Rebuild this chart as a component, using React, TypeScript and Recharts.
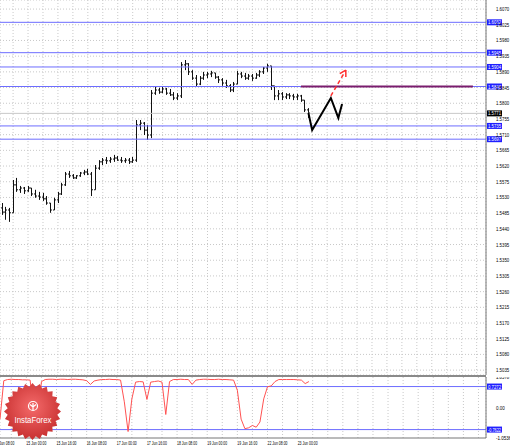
import { ComposedChart, Bar, Line, XAxis, YAxis, CartesianGrid, ReferenceLine } from 'recharts';

// 2-hour OHLC bars
const highs = [
  1.5514, 1.5503, 1.55, 1.558, 1.5586, 1.5563, 1.556, 1.5563, 1.5557, 1.5552,
  1.5546, 1.5543, 1.5534, 1.5514, 1.5529, 1.5546, 1.5572, 1.5603, 1.5606, 1.5597,
  1.5594, 1.5603, 1.5609, 1.5612, 1.5603, 1.5623, 1.5637, 1.5643, 1.5646, 1.5646,
  1.5652, 1.5649, 1.5646, 1.5643, 1.5643, 1.5646, 1.5752, 1.5752, 1.5746, 1.5738,
  1.5838, 1.5847, 1.5844, 1.5847, 1.5844, 1.5841, 1.5832, 1.5829, 1.5918, 1.5924,
  1.5915, 1.5895, 1.5881, 1.5878, 1.589, 1.589, 1.5893, 1.5887, 1.5878, 1.5872,
  1.5867, 1.5855, 1.5861, 1.5893, 1.589, 1.5887, 1.5884, 1.5884, 1.5887, 1.5895,
  1.5904, 1.5913, 1.5907, 1.585, 1.5838, 1.5832, 1.5829, 1.5829, 1.5827, 1.5827,
  1.5824, 1.5809, 1.5786,
];
const lows = [
  1.548, 1.5466, 1.546, 1.5486, 1.5546, 1.5543, 1.554, 1.5546, 1.5534, 1.5529,
  1.5523, 1.552, 1.5509, 1.5486, 1.5494, 1.5514, 1.5537, 1.5563, 1.5586, 1.5583,
  1.5583, 1.5589, 1.5594, 1.5594, 1.5534, 1.5552, 1.5609, 1.5623, 1.5626, 1.5629,
  1.5632, 1.5635, 1.5629, 1.5629, 1.5626, 1.5629, 1.5632, 1.5723, 1.5709, 1.5695,
  1.57, 1.5824, 1.5827, 1.5829, 1.5824, 1.5821, 1.5809, 1.5809, 1.5815, 1.5895,
  1.5881, 1.5867, 1.5847, 1.5852, 1.5867, 1.5872, 1.5875, 1.587, 1.5858, 1.585,
  1.5844, 1.5832, 1.5832, 1.5855, 1.5872, 1.5867, 1.5867, 1.5864, 1.587, 1.5875,
  1.5884, 1.589, 1.5838, 1.5809, 1.5809, 1.5809, 1.5812, 1.5812, 1.5809, 1.5809,
  1.5804, 1.5775, 1.5758,
];
const opens = [
  1.55, 1.5488, 1.5494, 1.5486, 1.5566, 1.5552, 1.5557, 1.5549, 1.5557, 1.554,
  1.5534, 1.5531, 1.5526, 1.5514, 1.5494, 1.5523, 1.554, 1.5566, 1.5597, 1.5592,
  1.5586, 1.5592, 1.56, 1.5603, 1.5597, 1.5552, 1.5614, 1.5632, 1.5637, 1.5635,
  1.564, 1.5643, 1.5637, 1.5635, 1.5637, 1.5632, 1.5637, 1.5738, 1.5743, 1.5723,
  1.5709, 1.5829, 1.5838, 1.5832, 1.5841, 1.5829, 1.5824, 1.5815, 1.5821, 1.591,
  1.5913, 1.589, 1.5872, 1.5855, 1.5872, 1.5881, 1.5884, 1.5887, 1.5875, 1.5867,
  1.5858, 1.585, 1.5838, 1.5855, 1.5884, 1.5878, 1.5872, 1.5878, 1.5872, 1.5881,
  1.589, 1.5901, 1.5907, 1.585, 1.5821, 1.5827, 1.5818, 1.5824, 1.5821, 1.5818,
  1.5821, 1.5809, 1.5781,
];
const closes = [
  1.5488, 1.5494, 1.5486, 1.5566, 1.5552, 1.5557, 1.5549, 1.5557, 1.554, 1.5534,
  1.5531, 1.5526, 1.5514, 1.5494, 1.5523, 1.554, 1.5566, 1.5597, 1.5592, 1.5586,
  1.5592, 1.56, 1.5603, 1.5597, 1.5552, 1.5614, 1.5632, 1.5637, 1.5635, 1.564,
  1.5643, 1.5637, 1.5635, 1.5637, 1.5632, 1.5637, 1.5738, 1.5743, 1.5723, 1.5709,
  1.5829, 1.5838, 1.5832, 1.5841, 1.5829, 1.5824, 1.5815, 1.5821, 1.591, 1.5913,
  1.589, 1.5872, 1.5855, 1.5872, 1.5881, 1.5884, 1.5887, 1.5875, 1.5867, 1.5858,
  1.585, 1.5838, 1.5855, 1.5884, 1.5878, 1.5872, 1.5878, 1.5872, 1.5881, 1.589,
  1.5901, 1.5907, 1.585, 1.5821, 1.5827, 1.5818, 1.5824, 1.5821, 1.5818, 1.5821,
  1.5809, 1.5781, 1.5772,
];

// lower window oscillator
const oscillator = [
  -0.4, 0.93, 0.97, 0.98, 0.97, 0.97, 0.96, 0.96, 0.95, -0.3,
  -0.45, 0.9, 0.97, 0.98, 0.98, 0.97, 0.98, 0.98, 0.97, 0.98,
  0.98, 0.97, 0.96, 0.93, 0.8, 0.92, 0.95, 0.97, 0.97, 0.98,
  0.97, 0.97, 0.95, 0.2, -0.83, 0.3, 0.88, 0.9, 0.89, 0.28,
  0.88, 0.9, 0.92, 0.88, -0.24, 0.9, 0.97, 0.97, 0.98, 0.97,
  0.97, 0.8, 0.95, 0.97, 0.98, 0.98, 0.97, 0.97, 0.98, 0.97,
  0.97, 0.96, 0.95, 0.6, -0.4, -0.73, -0.7, -0.62, -0.68, -0.5,
  0.3, 0.72, 0.75, 0.9, 0.97, 0.97, 0.97, 0.97, 0.97, 0.96,
  0.95, 0.83, 0.9,
];

// forecast zigzag and the dashed target arrow
const forecastSlots = [82, 83, 88, 90, 91];
const forecastPrices = [1.5772, 1.5723, 1.5815, 1.5758, 1.5798];
const arrowSlots = [88, 92];
const arrowPrices = [1.5821, 1.5895];

const priceTicks = [
  1.5035, 1.508, 1.5125, 1.517, 1.5215, 1.526, 1.5305, 1.535, 1.5395, 1.544, 1.5485, 1.553,
  1.5575, 1.562, 1.5665, 1.571, 1.5755, 1.58, 1.5845, 1.589, 1.5935, 1.598, 1.6025, 1.607,
];
const levels = [1.6032, 1.5945, 1.5904, 1.5848, 1.5735, 1.5697];
const lastPrice = 1.5771;
const targetLevel = 1.5848;
const targetFrom = 80;
const targetTo = 126;

const oscTicks = [-1.0536, 0, 1.0578];
const oscLevels = [0.7272, -0.7622];

const timeLabels = [
  '12 Jun 08:00', '15 Jun 00:00', '15 Jun 16:00', '16 Jun 08:00', '17 Jun 00:00', '17 Jun 16:00',
  '18 Jun 08:00', '19 Jun 00:00', '19 Jun 16:00', '22 Jun 08:00', '23 Jun 00:00',
];

const slotCount = 130;
const gridSlots = Array.from({ length: slotCount }, (_, i) => i).filter((i) => i % 4 === 3);

const data = Array.from({ length: slotCount }, (_, i) => {
  const has = i < highs.length;
  const f = forecastSlots.indexOf(i);
  const a = arrowSlots.indexOf(i);
  return {
    t: i,
    range: has ? [lows[i], highs[i]] : null,
    high: has ? highs[i] : null,
    low: has ? lows[i] : null,
    open: has ? opens[i] : null,
    close: has ? closes[i] : null,
    osc: has ? oscillator[i] : null,
    forecast: f >= 0 ? forecastPrices[f] : null,
    arrow: a >= 0 ? arrowPrices[a] : null,
  };
});

const FONT = '"Liberation Sans", Arial, sans-serif';
const LEVEL_BLUE = '#6d6dff';
const TAG_BLUE = '#1f1fff';

function OhlcBar(props: any) {
  const { x, y, width, height, payload } = props;
  if (!payload || payload.high == null) return <g />;
  const top = Math.min(y, y + height);
  const bot = Math.max(y, y + height);
  const span = payload.high - payload.low || 1;
  const py = (v: number) => top + ((payload.high - v) / span) * (bot - top);
  const cx = Math.round(x + width / 2) + 0.5;
  return (
    <g stroke="#111" strokeWidth={1}>
      <line x1={cx} x2={cx} y1={top} y2={bot} />
      <line x1={cx - 1.5} x2={cx} y1={py(payload.open)} y2={py(payload.open)} />
      <line x1={cx} x2={cx + 1.5} y1={py(payload.close)} y2={py(payload.close)} />
    </g>
  );
}

function ArrowHead(props: any) {
  const { cx, cy, index } = props;
  if (index !== arrowSlots[arrowSlots.length - 1] || cy == null) return <g />;
  return (
    <path
      d="M0,0 L-6,-3.5 M0,0 L-6,3.5"
      transform={`translate(${cx},${cy}) rotate(-60)`}
      stroke="#ff3030"
      strokeWidth={1.5}
      fill="none"
    />
  );
}

function AxisTag(props: any) {
  const { viewBox, text, fill } = props;
  if (!viewBox) return null;
  const { x, y, width } = viewBox;
  return (
    <g>
      <rect x={x + width + 1} y={y - 3} width={15} height={6} fill={fill} />
      <text x={x + width + 2} y={y + 2} fontSize={5} fill="#fff" fontFamily={FONT} textLength={13} lengthAdjust="spacingAndGlyphs">
        {text}
      </text>
    </g>
  );
}

function ValueTick(props: any) {
  const { x, y, payload, fmt } = props;
  const label = fmt(payload.value);
  return (
    <text x={x + 2} y={y + 2} fontSize={5} fill="#000" fontFamily={FONT} textLength={label.length * 2.2} lengthAdjust="spacingAndGlyphs">
      {label}
    </text>
  );
}

function TimeTick(props: any) {
  const { x, y, payload } = props;
  const slot = payload.value;
  if ((slot - 7) % 8 !== 0) return <g />;
  const k = (slot - 7) / 8 + 1;
  const style = { fontSize: 5.5, fill: '#000', fontFamily: FONT };
  return (
    <g>
      {k === 1 && (
        <text x={x - 32} y={y + 5} {...style} textLength={20} lengthAdjust="spacingAndGlyphs">
          {timeLabels[0]}
        </text>
      )}
      {timeLabels[k] && (
        <text x={x} y={y + 5} {...style} textLength={20} lengthAdjust="spacingAndGlyphs">
          {timeLabels[k]}
        </text>
      )}
    </g>
  );
}

const starPath = (() => {
  const pts: string[] = [];
  const n = 24;
  for (let k = 0; k < n * 2; k++) {
    const r = k % 2 ? 25 : 28.5;
    const a = (Math.PI * k) / n;
    pts.push(`${(32.5 + r * Math.sin(a)).toFixed(2)},${(411.5 - r * Math.cos(a)).toFixed(2)}`);
  }
  return 'M' + pts.join('L') + 'Z';
})();

function Logo() {
  return (
    <svg width={510} height={446} style={{ position: 'absolute', left: 0, top: 0, pointerEvents: 'none' }}>
      <defs>
        <radialGradient id="seal" cx="50%" cy="42%" r="60%">
          <stop offset="0%" stopColor="#f46a6a" />
          <stop offset="100%" stopColor="#c62e2e" />
        </radialGradient>
      </defs>
      <path d={starPath} fill="url(#seal)" />
      <circle cx={33} cy={406} r={4.5} fill="none" stroke="#fff" strokeWidth={1.2} />
      <path d="M33,403 L33,410 M30,404.5 L33,407 L36,404.5" stroke="#fff" strokeWidth={1.2} fill="none" />
      <text x={33} y={423} textAnchor="middle" fontSize={9} fill="#fff" fontFamily={FONT} textLength={37} lengthAdjust="spacingAndGlyphs">
        InstaForex
      </text>
    </svg>
  );
}

export default function App() {
  return (
    <div style={{ position: 'absolute', left: 0, top: 0, width: 510, height: 446, background: '#fff', overflow: 'hidden' }}>
      <ComposedChart width={510} height={375} data={data} margin={{ top: 0, right: 0, left: 0, bottom: 0 }} barCategoryGap={0} barGap={0}>
        <CartesianGrid stroke="#c8c8c8" strokeDasharray="1 2" />
        <XAxis dataKey="t" type="category" hide ticks={gridSlots} interval={0} />
        <YAxis
          orientation="right"
          type="number"
          width={24}
          domain={[1.5021, 1.6096]}
          allowDataOverflow
          ticks={priceTicks}
          interval={0}
          tickLine={false}
          axisLine={{ stroke: '#777' }}
          tick={<ValueTick fmt={(v: number) => v.toFixed(4)} />}
        />
        <ReferenceLine y={lastPrice} stroke="#c8c8c8" label={<AxisTag text={lastPrice.toFixed(4)} fill="#000" />} />
        {levels.map((lv) => (
          <ReferenceLine key={lv} y={lv} stroke={LEVEL_BLUE} label={<AxisTag text={lv.toFixed(4)} fill={TAG_BLUE} />} />
        ))}
        <ReferenceLine
          segment={[
            { x: targetFrom, y: targetLevel },
            { x: targetTo, y: targetLevel },
          ]}
          stroke="#7a1c6e"
          strokeWidth={2}
        />
        <Bar dataKey="range" shape={<OhlcBar />} barSize={3} isAnimationActive={false} />
        <Line dataKey="forecast" connectNulls stroke="#000" strokeWidth={2} dot={false} isAnimationActive={false} />
        <Line
          dataKey="arrow"
          connectNulls
          stroke="#ff3030"
          strokeWidth={1.5}
          strokeDasharray="4 3"
          dot={<ArrowHead />}
          isAnimationActive={false}
        />
      </ComposedChart>
      <div style={{ position: 'absolute', left: 0, top: 375, width: 486, height: 2, background: '#8a8a8a' }} />
      <div style={{ position: 'absolute', left: 0, top: 377 }}>
        <ComposedChart width={510} height={69} data={data} margin={{ top: 0, right: 0, left: 0, bottom: 0 }}>
          <CartesianGrid stroke="#c8c8c8" strokeDasharray="1 2" horizontal={false} />
          <XAxis
            dataKey="t"
            type="category"
            ticks={gridSlots}
            interval={0}
            height={8}
            tickSize={0}
            tickLine={false}
            axisLine={{ stroke: '#777' }}
            tick={<TimeTick />}
          />
          <YAxis
            orientation="right"
            type="number"
            width={24}
            domain={[-1.0536, 1.0578]}
            allowDataOverflow
            ticks={oscTicks}
            interval={0}
            tickLine={false}
            axisLine={{ stroke: '#777' }}
            tick={<ValueTick fmt={(v: number) => (v === 0 ? '0.00' : v.toFixed(4))} />}
          />
          {oscLevels.map((lv) => (
            <ReferenceLine key={lv} y={lv} stroke={LEVEL_BLUE} label={<AxisTag text={lv.toFixed(4)} fill={TAG_BLUE} />} />
          ))}
          <Line dataKey="osc" stroke="#ff5252" strokeWidth={1} dot={false} isAnimationActive={false} />
        </ComposedChart>
      </div>
      <Logo />
    </div>
  );
}
